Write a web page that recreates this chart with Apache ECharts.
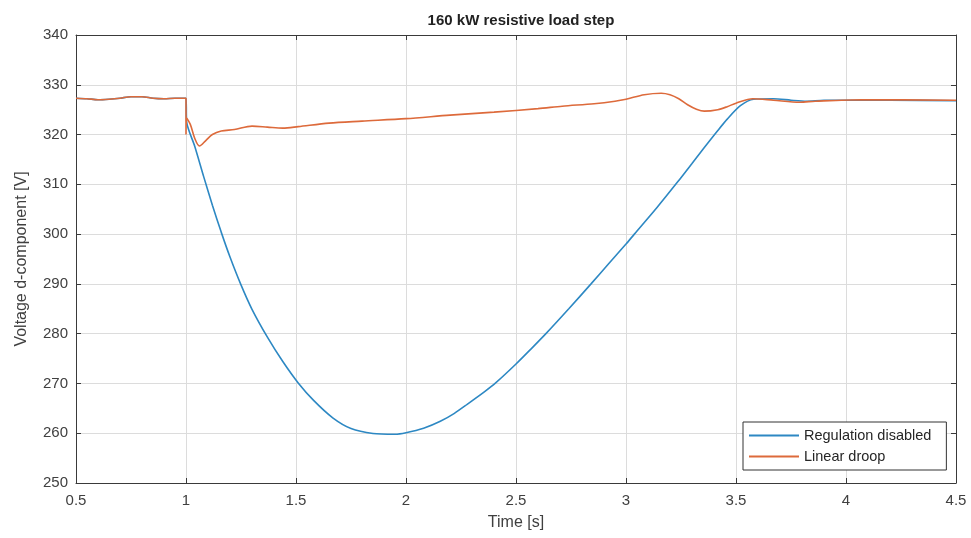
<!DOCTYPE html>
<html>
<head>
<meta charset="utf-8">
<script src="https://cdn.jsdelivr.net/npm/echarts@6/dist/echarts.min.js"></script>
<style>
html,body{margin:0;padding:0;background:#fff;}
#c{width:971px;height:538px;}
</style>
</head>
<body>
<div id="c"></div>
<script>
var titleText = '160 kW resistive load step';
var xName = 'Time [s]';
var yName = 'Voltage d-component [V]';
var seriesNames = ['Regulation disabled', 'Linear droop'];

var regTime = [0.5,0.55,0.6,0.65,0.7,0.75,0.8,0.85,0.9,0.95,1.0,1.003,1.04,1.08,1.12,1.16,1.2,1.25,1.3,1.37,1.44,1.51,1.58,1.667,1.75,1.85,1.95,2.0,2.08,2.156,2.22,2.278,2.356,2.41,2.5,2.57,2.636,2.74,2.841,2.92,3.0,3.038,3.14,3.235,3.3,3.356,3.41,3.46,3.52,3.58,3.67,3.75,3.82,3.9,4.0,4.2,4.5];
var regValue = [327.3,327.2,327.0,327.1,327.3,327.6,327.6,327.3,327.2,327.3,327.3,322.5,317.6,311.6,305.8,300.4,295.4,289.8,284.9,279.3,274.4,270.1,266.6,263.1,260.95,259.95,259.8,260.1,261.0,262.4,264.0,265.8,268.3,270.2,273.9,277.0,280.0,285.0,290.0,294.0,298.0,300.0,305.3,310.5,314.2,317.4,320.4,323.1,325.8,327.1,327.2,326.9,326.7,326.9,326.9,326.9,326.8];

var droopTime = [0.5,0.55,0.6,0.65,0.7,0.75,0.8,0.85,0.9,0.95,1.0,1.0,1.003,1.02,1.04,1.061,1.09,1.12,1.16,1.22,1.3,1.37,1.44,1.51,1.65,1.8,2.0,2.2,2.4,2.6,2.71,2.855,2.95,3.0,3.083,3.16,3.2,3.24,3.28,3.32,3.356,3.417,3.46,3.5,3.576,3.67,3.79,3.86,4.07,4.5];
var droopValue = [327.3,327.2,327.0,327.1,327.3,327.6,327.6,327.3,327.2,327.3,327.3,320.0,323.3,322.0,319.2,317.7,318.8,320.0,320.7,321.0,321.7,321.5,321.3,321.6,322.3,322.7,323.2,323.9,324.5,325.2,325.7,326.2,326.7,327.1,328.0,328.3,328.0,327.2,326.0,325.1,324.7,325.0,325.6,326.3,327.2,326.9,326.5,326.7,327.0,326.9];

function zip(a, b) { var r = []; for (var i = 0; i < a.length; i++) r.push([a[i], b[i]]); return r; }

var font = '"Liberation Sans", Arial, sans-serif';
var axisColor = '#3a3a3a';
var labelColor = '#404040';

var chart = echarts.init(document.getElementById('c'));
chart.setOption({
  animation: false,
  backgroundColor: '#ffffff',
  title: {
    text: titleText,
    left: 516, top: 8, textAlign: 'center',
    textStyle: { fontFamily: font, fontSize: 15, fontWeight: 'bold', color: '#222' }
  },
  grid: { left: 76, right: 15, top: 35, bottom: 55, containLabel: false },
  legend: {
    orient: 'vertical',
    left: 743, top: 422,
    padding: [5, 15, 5, 6],
    itemGap: 4,
    itemWidth: 50, itemHeight: 2,
    icon: 'rect',
    borderColor: '#333', borderWidth: 1,
    backgroundColor: '#fff',
    textStyle: { fontFamily: font, fontSize: 14.5, color: '#262626', lineHeight: 17 },
    data: seriesNames
  },
  xAxis: [{
    type: 'value', min: 0.5, max: 4.5, interval: 0.5,
    name: xName, nameLocation: 'middle', nameGap: 32,
    nameTextStyle: { fontFamily: font, fontSize: 16, color: labelColor },
    axisLine: { show: true, lineStyle: { color: axisColor, width: 1 } },
    axisTick: { show: true, inside: true, length: 5, lineStyle: { color: axisColor } },
    axisLabel: { fontFamily: font, fontSize: 15, color: labelColor, margin: 10 },
    splitLine: { show: true, lineStyle: { color: '#dcdcdc', width: 1 } }
  }, {
    type: 'value', min: 0.5, max: 4.5, interval: 0.5, position: 'top',
    axisLine: { show: true, lineStyle: { color: axisColor, width: 1 } },
    axisTick: { show: true, inside: true, length: 5, lineStyle: { color: axisColor } },
    axisLabel: { show: false }, splitLine: { show: false }
  }],
  yAxis: [{
    type: 'value', min: 250, max: 340, interval: 10,
    name: yName, nameLocation: 'middle', nameGap: 46, nameRotate: 90,
    nameTextStyle: { fontFamily: font, fontSize: 16, color: labelColor },
    axisLine: { show: true, lineStyle: { color: axisColor, width: 1 } },
    axisTick: { show: true, inside: true, length: 5, lineStyle: { color: axisColor } },
    axisLabel: { fontFamily: font, fontSize: 15, color: labelColor, margin: 8 },
    splitLine: { show: true, lineStyle: { color: '#dcdcdc', width: 1 } }
  }, {
    type: 'value', min: 250, max: 340, interval: 10, position: 'right',
    axisLine: { show: true, lineStyle: { color: axisColor, width: 1 } },
    axisTick: { show: true, inside: true, length: 5, lineStyle: { color: axisColor } },
    axisLabel: { show: false }, splitLine: { show: false }
  }],
  series: [{
    name: seriesNames[0], type: 'line', xAxisIndex: 0, yAxisIndex: 0,
    data: zip(regTime, regValue),
    showSymbol: false, symbol: 'none', smooth: 0.25,
    lineStyle: { color: '#2d88c3', width: 1.6 },
    itemStyle: { color: '#2d88c3' }
  }, {
    name: seriesNames[1], type: 'line', xAxisIndex: 0, yAxisIndex: 0,
    data: zip(droopTime, droopValue),
    showSymbol: false, symbol: 'none', smooth: 0.3,
    lineStyle: { color: '#dd6a3b', width: 1.6 },
    itemStyle: { color: '#dd6a3b' }
  }]
});
</script>
</body>
</html>
